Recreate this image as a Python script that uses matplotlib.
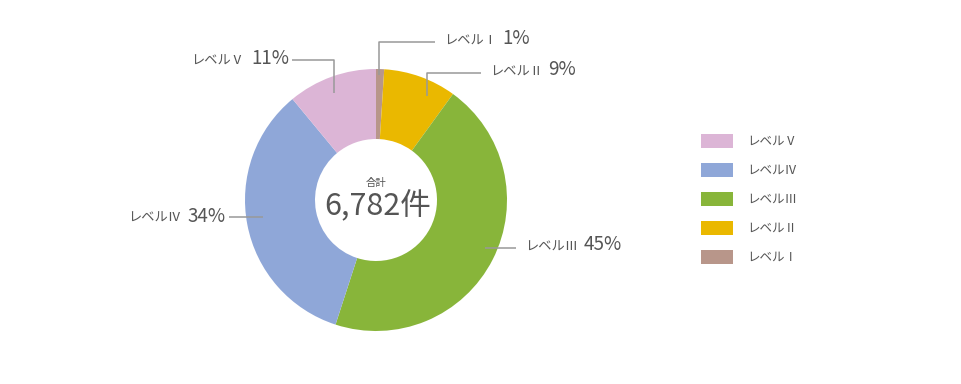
import matplotlib
matplotlib.use("Agg")
import matplotlib.pyplot as plt

plt.rcParams['font.family'] = ['Noto Sans CJK JP', 'DejaVu Sans']

# データ（時計回り、上から）
levels = ['レベルⅠ', 'レベルⅡ', 'レベルⅢ', 'レベルⅣ', 'レベルⅤ']
shares = [1, 9, 45, 34, 11]
colors = ['#B8968A', '#EAB800', '#88B53A', '#8FA7D8', '#DCB5D6']
total_label = '6,782件'

W, H = 962, 384
text_c = '#555555'
line_c = '#999999'

fig = plt.figure(figsize=(W / 100, H / 100), dpi=100)
ax = fig.add_axes([0, 0, 1, 1])

cx, cy = 376, H - 200
wedges, _ = ax.pie(shares, colors=colors, startangle=90, counterclock=False,
                   center=(cx, cy), radius=131,
                   wedgeprops=dict(width=70, linewidth=0))
ax.set_xlim(0, W)
ax.set_ylim(0, H)
ax.set_aspect('equal')
ax.axis('off')

# 中央テキスト
ax.text(cx, H - 183, '合計', ha='center', va='center', fontsize=7.5, color=text_c)
ax.text(cx + 2, H - 206, total_label, ha='center', va='center', fontsize=22, color=text_c)

# 引き出し線（画像座標 y は上から）: 点列, 文字の向き
leaders = {
    'レベルⅠ': ([(379, 75), (379, 42), (435, 42)], 'right'),
    'レベルⅡ': ([(427, 96), (427, 73), (481, 73)], 'right'),
    'レベルⅢ': ([(485, 248), (516, 248)], 'right'),
    'レベルⅣ': ([(263, 217), (229, 217)], 'left'),
    'レベルⅤ': ([(334, 93), (334, 60), (292, 60)], 'left'),
}

for name, pct in zip(levels, shares):
    pts, side = leaders[name]
    xs = [p[0] for p in pts]
    ys = [H - p[1] for p in pts]
    ax.plot(xs, ys, color=line_c, lw=1.1, solid_capstyle='butt')
    ex, ey = xs[-1], ys[-1]
    if side == 'right':
        t1 = ax.text(ex + 9, ey + 1, name, ha='left', va='center',
                     fontsize=9.5, color=text_c)
        ax.annotate(f'{pct}%', xy=(1, 0), xycoords=t1, xytext=(4, -1),
                    textcoords='offset points', ha='left', va='bottom',
                    fontsize=13.5, color=text_c)
    else:
        t1 = ax.text(ex - 3, ey + 1, f'{pct}%', ha='right', va='center',
                     fontsize=13.5, color=text_c)
        ax.annotate(name, xy=(0, 0), xycoords=t1, xytext=(-5, 1),
                    textcoords='offset points', ha='right', va='bottom',
                    fontsize=9.5, color=text_c)

# 凡例
ax.legend(wedges[::-1], levels[::-1], loc='upper left',
          bbox_to_anchor=(701 / W, 1 - 134 / H), frameon=False,
          fontsize=9, labelcolor=text_c, handlelength=2.6, handleheight=1.3,
          handletextpad=1.1, labelspacing=1.2, borderpad=0, borderaxespad=0)

fig.savefig('out.png', dpi=100)
